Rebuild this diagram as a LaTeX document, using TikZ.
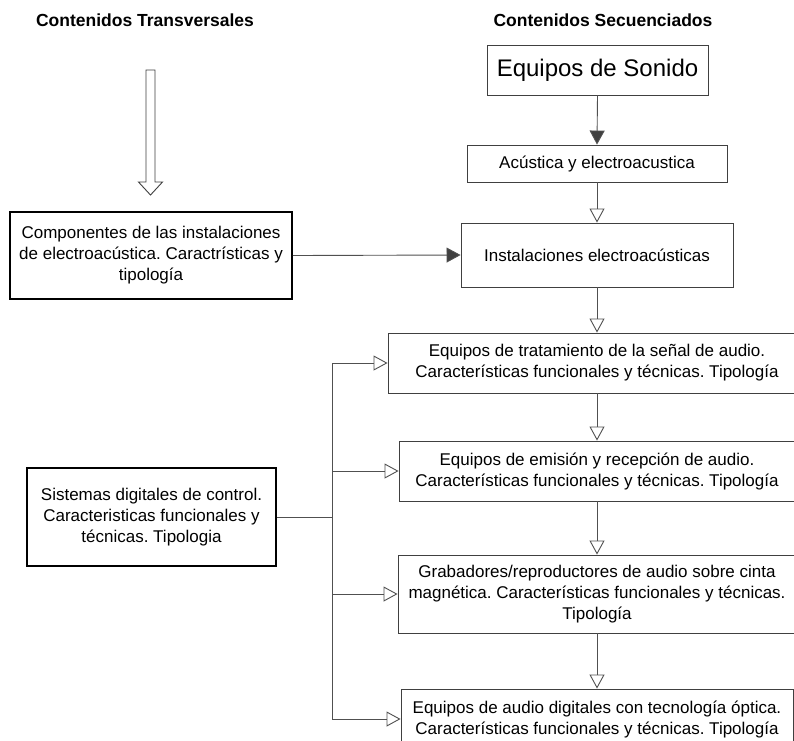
\documentclass[tikz,border=0pt]{standalone}
\usepackage{fontspec}
\setmainfont{Liberation Sans}
\usetikzlibrary{arrows.meta}
\definecolor{linegray}{HTML}{505050}
\definecolor{boxgray}{HTML}{404040}
\tikzset{
  seqbox/.style={draw=boxgray, line width=0.9pt, align=center, inner sep=0pt,
    font=\fontsize{17}{21}\selectfont},
  transbox/.style={draw=black, line width=1.8pt, align=center, inner sep=0pt,
    font=\fontsize{17}{21}\selectfont},
  header/.style={font=\bfseries\fontsize{17.5}{21}\selectfont, inner sep=0pt},
  conn/.style={draw=linegray, line width=0.9pt},
  filltip/.style={conn, -{Triangle[width=15pt,length=14pt,fill=boxgray]}},
  opentip/.style={conn, -{Triangle[open,width=15pt,length=14pt,fill=white]}},
}
\begin{document}
\frenchspacing
\begin{tikzpicture}[x=1pt,y=-1pt]
\useasboundingbox (0,0) rectangle (794,740);
\clip (0,0) rectangle (794,740);
\fill[white] (0,0) rectangle (794,740);

\node[header] (h1) at (145,20) {Contenidos Transversales};
\node[header] (h2) at (603,20) {Contenidos Secuenciados};

% hollow block arrow
\draw[boxgray, line width=0.9pt, fill=white]
  (146,70) -- (155,70) -- (155,182) -- (162.5,182) -- (150.5,195)
  -- (138.5,182) -- (146,182) -- cycle;

\node[seqbox, minimum width=221pt, minimum height=50pt,
  font=\fontsize{24}{28}\selectfont] (sonido) at (597.5,70) {Equipos de Sonido};
\node[seqbox, minimum width=260pt, minimum height=37pt] (acus) at (597,163.5)
  {Acústica y electroacustica};
\node[seqbox, minimum width=272pt, minimum height=64pt] (inst) at (597,255)
  {Instalaciones electroacústicas};
\node[transbox, minimum width=282pt, minimum height=87pt] (comp) at (151,255.5)
  {Componentes de las instalaciones\\de electroacústica. Caractrísticas y\\tipología};

\node[seqbox, minimum width=418pt, minimum height=60pt] (eq4) at (597,363)
  {Equipos de tratamiento de la señal de audio.\\Características funcionales y técnicas. Tipología};
\node[seqbox, minimum width=396pt, minimum height=60pt] (eq5) at (597,471)
  {Equipos de emisión y recepción de audio.\\Características funcionales y técnicas. Tipología};
\node[seqbox, minimum width=398pt, minimum height=78pt] (eq6) at (597,594)
  {Grabadores/reproductores de audio sobre cinta\\magnética. Características funcionales y técnicas.\\Tipología};
\node[seqbox, minimum width=392pt, minimum height=60pt] (eq7) at (597,719)
  {Equipos de audio digitales con tecnología óptica.\\Características funcionales y técnicas. Tipología};

\node[transbox, minimum width=249pt, minimum height=98pt] (sist) at (151.5,517)
  {Sistemas digitales de control.\\Caracteristicas funcionales y\\técnicas. Tipologia};

% sequence connectors
\draw[filltip] (sonido.south) -- (acus.north);
\draw[opentip] (acus.south) -- (inst.north);
\draw[filltip] (comp.east) -- (inst.west);
\draw[opentip] (inst.south) -- (eq4.north);
\draw[opentip] (eq4.south) -- (eq5.north);
\draw[opentip] (eq5.south) -- (eq6.north);
\draw[opentip] (eq6.south) -- (eq7.north);

% bus from Sistemas digitales
\coordinate (bx) at (332,0);
\draw[conn] (sist.east) -- (sist.east -| bx);
\draw[conn] (bx |- eq4.west) -- (bx |- eq7.west);
\draw[opentip] (bx |- eq4.west) -- (eq4.west);
\draw[opentip] (bx |- eq5.west) -- (eq5.west);
\draw[opentip] (bx |- eq6.west) -- (eq6.west);
\draw[opentip] (bx |- eq7.west) -- (eq7.west);
\end{tikzpicture}
\end{document}
